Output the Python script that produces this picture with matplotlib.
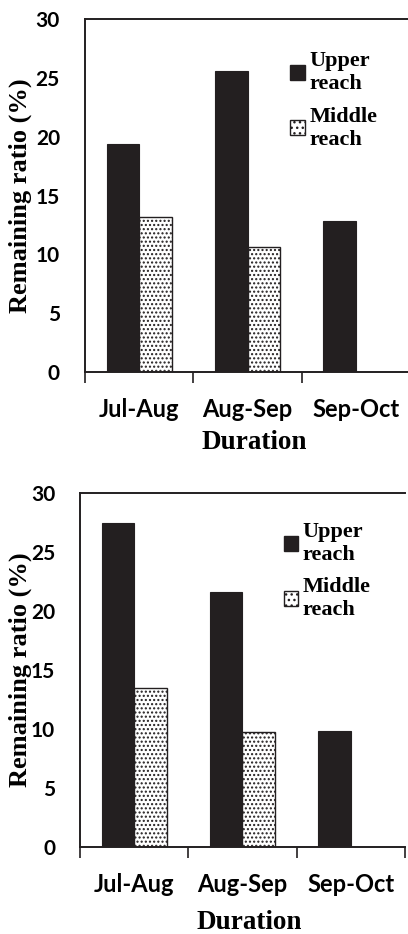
import matplotlib
matplotlib.use("Agg")
import matplotlib.pyplot as plt
import numpy as np
from matplotlib.patches import Patch

plt.rcParams['hatch.linewidth'] = 1.0

durations = ["Jul-Aug", "Aug-Sep", "Sep-Oct"]
series_names = ["Upper\nreach", "Middle\nreach"]

# remaining ratio (%) per period; None where no middle-reach value exists
upper_a = [19.4, 25.6, 12.85]
middle_a = [13.2, 10.6, None]
upper_b = [27.5, 21.6, 9.8]
middle_b = [13.5, 9.7, None]

yticks = [0, 5, 10, 15, 20, 25, 30]

DARK = "#231f20"
TICK_FONT = "Lato"
LABEL_FONT = "Liberation Serif"

W, H = 408, 934
fig = plt.figure(figsize=(W / 100, H / 100), dpi=100)


def draw_panel(rect, upper, middle, ylabel_x, xlabel_y, leg_anchor):
    ax = fig.add_axes(rect)
    x = np.arange(len(durations))
    width = 0.3
    ax.bar(x - width / 2, upper, width, color=DARK, edgecolor=DARK, linewidth=0.8)
    mid_x = [xi for xi, v in zip(x, middle) if v is not None]
    mid_v = [v for v in middle if v is not None]
    ax.bar(np.array(mid_x) + width / 2, mid_v, width, color="white",
           edgecolor=DARK, hatch="....", linewidth=1.0)

    ax.set_xlim(-0.5, len(durations) - 0.5)
    ax.set_ylim(0, 30)
    ax.set_yticks(yticks)
    ax.set_yticklabels([str(t) for t in yticks], fontfamily=TICK_FONT,
                       fontweight="bold", fontsize=15)
    ax.tick_params(axis="y", length=0, pad=18)

    # group boundaries carry the tick marks, labels sit at group centres
    ax.set_xticks(np.arange(-0.5, len(durations) + 0.5, 1.0))
    ax.set_xticklabels([])
    ax.tick_params(axis="x", which="major", direction="out", length=8,
                   width=1.2, color=DARK)
    ax.set_xticks(x, minor=True)
    ax.set_xticklabels(durations, minor=True, fontfamily=TICK_FONT,
                       fontweight="bold", fontsize=17)
    ax.tick_params(axis="x", which="minor", length=0, pad=19)

    for s in ["left", "bottom", "top"]:
        ax.spines[s].set_linewidth(1.4)
        ax.spines[s].set_color(DARK)
    ax.spines["right"].set_visible(False)

    ax.set_ylabel("Remaining ratio (%)", fontfamily=LABEL_FONT,
                  fontweight="bold", fontsize=19)
    ax.yaxis.set_label_coords(ylabel_x, 0.5)
    ax.set_xlabel("Duration", fontfamily=LABEL_FONT, fontweight="bold",
                  fontsize=19.5)
    ax.xaxis.set_label_coords(0.52, xlabel_y)

    handles = [Patch(facecolor=DARK, edgecolor=DARK),
               Patch(facecolor="white", edgecolor=DARK, hatch="...")]
    ax.legend(handles, series_names, loc="upper left", bbox_to_anchor=leg_anchor,
              frameon=False, handlelength=0.65, handleheight=0.65,
              handletextpad=0.2, labelspacing=0.55,
              prop={"family": LABEL_FONT, "weight": "bold", "size": 16})
    return ax


draw_panel([85 / W, 1 - 372 / H, 325 / W, 353 / H], upper_a, middle_a,
           -0.163, -0.165, (0.57, 0.965))
draw_panel([80 / W, 1 - 846.7 / H, 325 / W, 353.4 / H], upper_b, middle_b,
           -0.148, -0.18, (0.565, 0.975))

fig.savefig("out.png", dpi=100)
